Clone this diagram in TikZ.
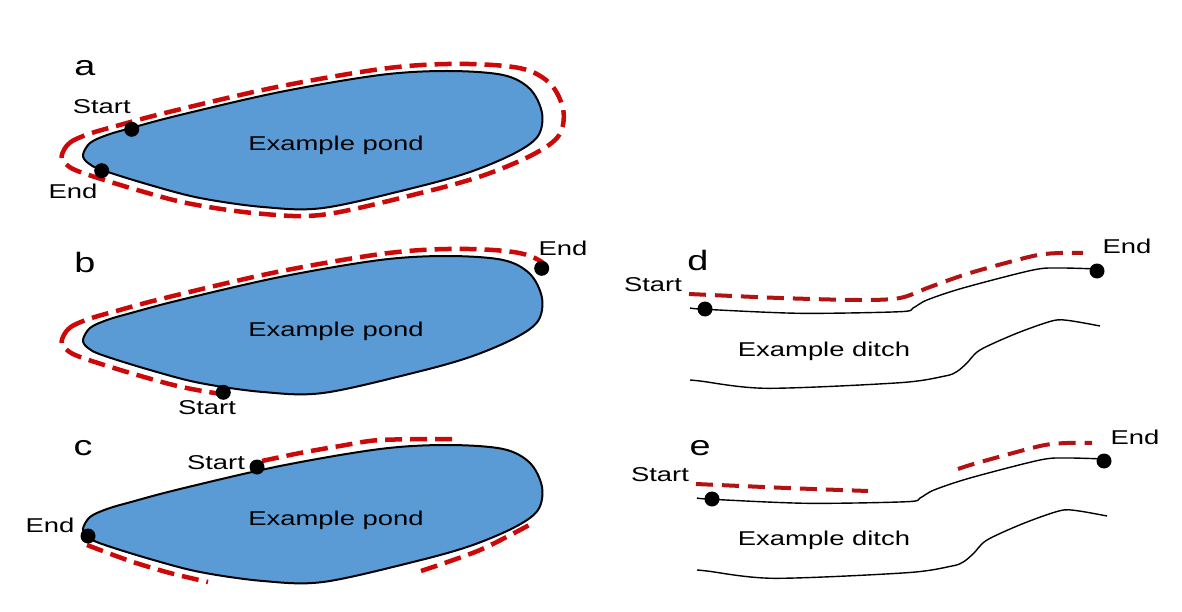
\documentclass[tikz,border=0pt]{standalone}
\usepackage{fontspec}
\usepackage{graphicx}
\setmainfont{Liberation Sans}
\definecolor{pondblue}{RGB}{91,155,213}
\definecolor{routered}{RGB}{204,8,8}
\definecolor{ditchred}{RGB}{178,18,18}
% wide, low lettering
\newcommand\wide[1]{\scalebox{1.37}[1]{#1}}
\newcommand\widepanel[1]{\scalebox{1.35}[1]{#1}}
% outline of the pond, in the coordinates of the top panel
\def\pondpath{plot[smooth cycle, tension=0.55] coordinates {
  (83,155) (90,143) (107,135) (131,128) (180,115) (280,92) (380,75)
  (447,71) (503,75) (530,89) (542,113) (538,136) (515,153) (470,172)
  (413,188) (323,208) (263,207) (200,198) (150,185) (102,170) (88,163)}}
% the two banks of the ditch
\def\upperbank{plot[smooth, tension=0.5] coordinates {
  (690,308) (705,309.3) (800,313.3) (900,311.7) (913,308) (927,300) (963,288)
  (1033,270) (1060,268) (1097,269)}}
\def\lowerbank{plot[smooth, tension=0.5] coordinates {
  (690,380) (700,381) (766.7,388.3) (900,382.7) (945,376) (956.7,371.7)
  (966.7,363.3) (980,350) (1016.7,333.3) (1053,320.7) (1070,320.7) (1100,326)}}
\begin{document}
\begin{tikzpicture}[x=1pt,y=-1pt,
  pond/.style={fill=pondblue, draw=black, line width=2pt},
  route/.style={draw=routered, line width=4.5pt, dash pattern=on 17pt off 8pt},
  ditchroute/.style={draw=ditchred, line width=4pt, dash pattern=on 17pt off 9pt},
  bank/.style={draw=black, line width=1.4pt},
  site/.style={circle, fill=black, inner sep=0pt, minimum size=15pt},
  lbl/.style={font=\fontsize{20}{24}\selectfont, inner sep=0pt},
  titletext/.style={lbl, anchor=base},
  panel/.style={font=\fontsize{28}{32}\selectfont, inner sep=0pt},
  halo/.style={shift={(313,142)}, xscale=1.093, yscale=1.1, shift={(-313,-142)}}
]
\useasboundingbox (0,0) rectangle (1182,612);
\fill[white] (0,0) rectangle (1182,612);

% ---------- a: closed walk round the whole pond ----------
\path[pond] \pondpath;
\begin{scope}[halo]
  \draw[route] \pondpath;
\end{scope}
\node[site] (sa) at (131.7,129.3) {};
\node[site] (ea) at (101.7,170.7) {};
\node[panel] (la) at (85,68) {\widepanel{a}};
\node[lbl] (tsa) at (101.7,106.7) {\wide{Start}};
\node[lbl] (tea) at (73,191.7) {\wide{End}};
\node[titletext] (pa) at (336,151) {\wide{Example pond}};

% ---------- b: walk from the south shore round to the east ----------
\begin{scope}[shift={(0,185)}]
  \path[pond] \pondpath;
  \begin{scope}
    \clip (313,145) -- (-197,495) -- (-300,495) -- (-300,-200) -- (1428,-190) -- cycle;
    \begin{scope}[halo]
      \draw[route] \pondpath;
    \end{scope}
  \end{scope}
\end{scope}
\node[site] (sb) at (223.3,392.3) {};
\node[site] (eb) at (541.7,268.3) {};
\node[panel] (lb) at (85,262) {\widepanel{b}};
\node[lbl] (tsb) at (207,408) {\wide{Start}};
\node[lbl] (teb) at (563,248) {\wide{End}};
\node[titletext] (pb) at (336,336) {\wide{Example pond}};

% ---------- c: broken walk with gaps ----------
\begin{scope}[shift={(0,374)}]
  \path[pond] \pondpath;
\end{scope}
\draw[route] plot[smooth, tension=0.5] coordinates {(262,461) (300,453) (340,446) (380,440) (453,439)};
\draw[route] plot[smooth, tension=0.5] coordinates {(87,545) (130,561) (170,573) (208,582)};
\draw[route] plot[smooth, tension=0.5] coordinates {(421,571) (480,550) (533,523)};
\node[site] (sc) at (257,467) {};
\node[site] (ec) at (88,536) {};
\node[panel] (lc) at (83,448) {\widepanel{c}};
\node[lbl] (tsc) at (216,463) {\wide{Start}};
\node[lbl] (tec) at (50,525) {\wide{End}};
\node[titletext] (pc) at (336,525) {\wide{Example pond}};

% ---------- d: continuous walk along a ditch ----------
\draw[bank] \upperbank;
\draw[bank] \lowerbank;
\draw[ditchroute] plot[smooth, tension=0.5] coordinates {
  (689,294) (780,298) (860,300) (900,298) (930,287) (970,273) (1033,256) (1060,253) (1083,253)};
\node[site] (sd) at (705,309) {};
\node[site] (ed) at (1097,271) {};
\node[panel] (ld) at (698,260) {\widepanel{d}};
\node[lbl] (tsd) at (653,285) {\wide{Start}};
\node[lbl] (ted) at (1127,246) {\wide{End}};
\node[titletext] (pd) at (824,356) {\wide{Example ditch}};

% ---------- e: walk along a ditch with a gap ----------
\begin{scope}[shift={(7,190)}]
  \draw[bank] \upperbank;
  \draw[bank] \lowerbank;
  \draw[ditchroute] plot[smooth, tension=0.5] coordinates {(689,294) (780,298) (861,301)};
  \draw[ditchroute] plot[smooth, tension=0.5] coordinates {(951,279) (970,273) (1033,256) (1060,253) (1085,253)};
\end{scope}
\node[site] (se) at (712,499) {};
\node[site] (ee) at (1104,461) {};
\node[panel] (le) at (700,448) {\widepanel{e}};
\node[lbl] (tse) at (660,475) {\wide{Start}};
\node[lbl] (tee) at (1135,437) {\wide{End}};
\node[titletext] (pe) at (824,545) {\wide{Example ditch}};
\end{tikzpicture}
\end{document}
